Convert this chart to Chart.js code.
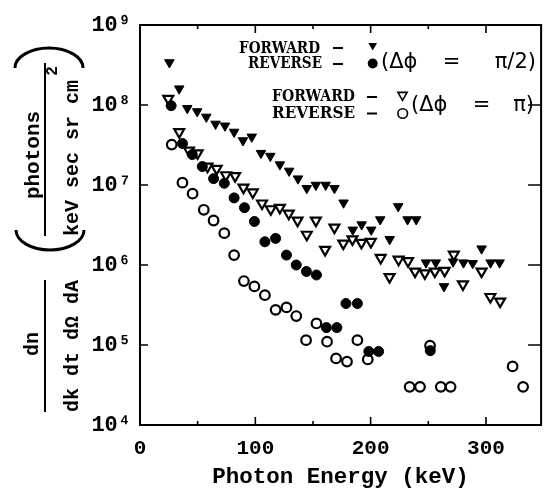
<!DOCTYPE html>
<html>
<head>
<meta charset="utf-8">
<script src="https://cdn.jsdelivr.net/npm/chart.js@4.4.0/dist/chart.umd.min.js"></script>
<style>
  html, body { margin: 0; padding: 0; background: #fff; }
  #wrap { width: 549px; height: 495px; }
</style>
</head>
<body>
<div id="wrap"><canvas id="myChart" width="549" height="495"></canvas></div>
<script>
// forward, delta phi = pi/2 (filled down triangles)
var fwdHalfX = [25.5, 34, 41, 49.6, 57.5, 65.5, 73.7, 81.6, 89.3, 96.9, 104.9, 113, 121.3, 129.3, 137, 144.6, 152.5, 161, 168.6, 176.5,
    184.5, 192.2, 200.5, 208.3, 216.5, 223.9, 232, 239.5, 248, 256.5, 263.6, 271.5, 280.5, 288.5, 296.2, 304, 311.8];
var fwdHalfY = [3.4e8, 1.6e8, 9.1e7, 8.3e7, 7.1e7, 5.8e7, 5.5e7, 4.6e7, 3.6e7, 4.0e7, 2.5e7, 2.3e7, 1.8e7, 1.5e7, 1.2e7, 9.1e6, 1.0e7, 1.0e7, 9.1e6, 6.0e6,
    2.75e6, 3.2e6, 2.75e6, 3.7e6, 2.1e6, 5.4e6, 3.7e6, 3.7e6, 1.07e6, 1.07e6, 5.4e5, 1.1e6, 1.07e6, 1.05e6, 1.6e6, 1.07e6, 1.07e6];

// reverse, delta phi = pi/2 (filled circles)
var revHalfX = [27, 36.8, 45.3, 54, 63.8, 73.1, 81.6, 90.6, 99.2, 108.3, 117.6, 127, 135.5, 144.3, 153, 161.6, 170.7, 178.6, 188.5, 198.4, 206.9, 251.7];
var revHalfY = [9.8e7, 3.3e7, 2.4e7, 1.7e7, 1.2e7, 1.05e7, 6.9e6, 5.2e6, 3.5e6, 1.95e6, 2.15e6, 1.33e6, 1.0e6, 8.3e5, 7.5e5, 1.65e5, 1.65e5, 3.3e5, 3.3e5, 8.3e4, 8.3e4, 8.5e4];

// forward, delta phi = pi (open down triangles)
var fwdPiX = [24.5, 34, 42.5, 50, 58.5, 66.5, 74.5, 82.5, 89.7, 97.8, 105.8, 113.4, 121.3, 129, 136.6, 144.6, 152.5, 160.5, 168.6, 176.3,
    184.2, 192, 200.2, 208.7, 216.4, 224.2, 232.4, 238.5, 247, 255.7, 264.2, 272.1, 280, 296.2, 303.8, 312.3];
var fwdPiY = [1.2e8, 4.6e7, 2.7e7, 2.5e7, 1.7e7, 1.6e7, 1.33e7, 1.3e7, 9.3e6, 8.1e6, 5.9e6, 5.0e6, 5.2e6, 4.4e6, 3.6e6, 2.4e6, 3.6e6, 1.55e6, 2.95e6, 1.86e6,
    2.1e6, 1.9e6, 1.95e6, 1.23e6, 7.1e5, 1.17e6, 1.12e6, 8.3e5, 7.9e5, 8.3e5, 8.5e5, 1.35e6, 5.75e5, 8.3e5, 4.0e5, 3.5e5];

// reverse, delta phi = pi (open circles)
var revPiX = [27.5, 36.8, 45.6, 55.3, 63.8, 73.1, 81.6, 90.1, 99.2, 108.3, 117.6, 127, 135.5, 144, 153, 162.2, 170, 179.5, 188.5, 197.5,
    233.8, 242.8, 251.5, 260.8, 269.3, 323.1, 332.2];
var revPiY = [3.2e7, 1.07e7, 7.8e6, 4.9e6, 3.6e6, 2.5e6, 1.33e6, 6.3e5, 5.4e5, 4.2e5, 2.75e5, 2.95e5, 2.3e5, 1.15e5, 1.86e5, 1.1e5, 6.8e4, 6.2e4, 1.15e5, 6.6e4,
    3.0e4, 3.0e4, 9.8e4, 3.0e4, 3.0e4, 5.4e4, 3.0e4];

var xTicks = [0, 100, 200, 300];
var xMinorTicks = [50, 150, 250];
var yTicks = [1e4, 1e5, 1e6, 1e7, 1e8, 1e9];

var monoFont = "'Liberation Mono', 'DejaVu Sans Mono', monospace";
var sup = { 4: '\u2074', 5: '\u2075', 6: '\u2076', 7: '\u2077', 8: '\u2078', 9: '\u2079' };

function pts(xs, ys) {
    return xs.map(function (x, i) { return { x: x, y: ys[i] }; });
}

function rotText(ctx, str, x, y) {
    ctx.save();
    ctx.translate(x, y);
    ctx.rotate(-Math.PI / 2);
    ctx.fillText(str, 0, 0);
    ctx.restore();
}

// text squeezed/stretched to a given width
function fitText(ctx, str, x, y, w) {
    var m = ctx.measureText(str).width;
    ctx.save();
    ctx.translate(x, y);
    ctx.scale(w / m, 1);
    ctx.fillText(str, 0, 0);
    ctx.restore();
}

function downTri(ctx, x, y, r, filled) {
    ctx.beginPath();
    ctx.moveTo(x - r * 0.866, y - r / 2);
    ctx.lineTo(x + r * 0.866, y - r / 2);
    ctx.lineTo(x, y + r);
    ctx.closePath();
    if (filled) ctx.fill(); else ctx.stroke();
}

function dot(ctx, x, y, r, filled) {
    ctx.beginPath();
    ctx.arc(x, y, r, 0, Math.PI * 2);
    if (filled) ctx.fill(); else ctx.stroke();
}

var framePlugin = {
    id: 'frame',
    afterDraw: function (chart) {
        var ctx = chart.ctx, a = chart.chartArea;
        var xs = chart.scales.x, ys = chart.scales.y;
        ctx.save();
        ctx.strokeStyle = '#000';
        ctx.fillStyle = '#000';
        ctx.lineWidth = 2;
        ctx.beginPath();
        ctx.moveTo(a.left - 1, a.top);
        ctx.lineTo(a.right, a.top);
        ctx.lineTo(a.right, a.bottom);
        ctx.stroke();

        ctx.lineWidth = 1.6;
        ctx.beginPath();
        yTicks.forEach(function (v) {
            var p = ys.getPixelForValue(v);
            ctx.moveTo(a.left, p); ctx.lineTo(a.left + 8, p);
            ctx.moveTo(a.right, p); ctx.lineTo(a.right - 13, p);
        });
        xTicks.forEach(function (v) {
            var p = xs.getPixelForValue(v);
            ctx.moveTo(p, a.bottom); ctx.lineTo(p, a.bottom - 8);
            ctx.moveTo(p, a.top); ctx.lineTo(p, a.top + 8);
        });
        xMinorTicks.forEach(function (v) {
            var p = xs.getPixelForValue(v);
            ctx.moveTo(p, a.bottom); ctx.lineTo(p, a.bottom - 4);
            ctx.moveTo(p, a.top); ctx.lineTo(p, a.top + 4);
        });
        ctx.stroke();

        // y axis title: dn / (dk dt dΩ dA) (photons / keV sec sr cm²)
        ctx.textAlign = 'center';
        ctx.textBaseline = 'alphabetic';
        ctx.font = 'bold 20px ' + monoFont;
        rotText(ctx, 'dn', 38, 344);
        rotText(ctx, 'dk dt d\u03A9 dA', 78, 346);
        ctx.font = 'bold 21px ' + monoFont;
        rotText(ctx, 'photons', 39, 155);
        ctx.font = 'bold 20px ' + monoFont;
        rotText(ctx, 'keV sec sr cm', 78, 158);
        ctx.font = 'bold 16px ' + monoFont;
        rotText(ctx, '2', 57, 71);
        ctx.lineWidth = 2;
        ctx.beginPath();
        ctx.moveTo(45, 280); ctx.lineTo(45, 412);
        ctx.moveTo(45, 63); ctx.lineTo(45, 236);
        ctx.stroke();
        ctx.lineWidth = 3;
        ctx.beginPath();
        ctx.ellipse(49, 68, 34, 20, 0, Math.PI, Math.PI * 2);
        ctx.stroke();
        ctx.beginPath();
        ctx.ellipse(50, 230, 34, 20, 0, 0, Math.PI);
        ctx.stroke();

        // legend
        ctx.textAlign = 'left';
        ctx.textBaseline = 'middle';
        ctx.font = 'bold 16px "DejaVu Serif", serif';
        fitText(ctx, 'FORWARD', 239, 48.5, 81);
        fitText(ctx, 'REVERSE', 248, 63.5, 74);
        fitText(ctx, 'FORWARD', 272, 96.5, 83);
        fitText(ctx, 'REVERSE', 272, 113.5, 83);
        ctx.fillRect(333, 47, 10, 2);
        ctx.fillRect(333, 63, 10, 2);
        ctx.fillRect(367, 96, 10, 2);
        ctx.fillRect(367, 112.5, 10, 2);
        ctx.lineWidth = 1.6;
        downTri(ctx, 372.7, 45.5, 5, true);
        dot(ctx, 372.7, 63.5, 5, true);
        downTri(ctx, 402.5, 95, 5.3, false);
        dot(ctx, 402.7, 113.5, 4.8, false);
        ctx.font = '21px "DejaVu Sans", sans-serif';
        ctx.textAlign = 'left';
        ctx.fillText('(\u0394\u03D5', 381, 63);
        ctx.fillText('(\u0394\u03D5', 411, 106);
        ctx.textAlign = 'center';
        ctx.fillText('=', 451.5, 63);
        ctx.fillText('=', 481.5, 106);
        ctx.textAlign = 'right';
        ctx.fillText('\u03C0/2)', 536, 63);
        ctx.fillText('\u03C0)', 534, 106);
        ctx.restore();
    }
};

var ctx = document.getElementById('myChart').getContext('2d');
var myChart = new Chart(ctx, {
    type: 'scatter',
    data: {
        datasets: [
            {
                label: 'FORWARD (\u0394\u03D5 = \u03C0/2)',
                data: pts(fwdHalfX, fwdHalfY),
                pointStyle: 'triangle',
                rotation: 180,
                pointRadius: 5.5,
                backgroundColor: '#000',
                borderColor: '#000',
                borderWidth: 1
            },
            {
                label: 'REVERSE (\u0394\u03D5 = \u03C0/2)',
                data: pts(revHalfX, revHalfY),
                pointStyle: 'circle',
                pointRadius: 5,
                backgroundColor: '#000',
                borderColor: '#000',
                borderWidth: 1
            },
            {
                label: 'FORWARD (\u0394\u03D5 = \u03C0)',
                data: pts(fwdPiX, fwdPiY),
                pointStyle: 'triangle',
                rotation: 180,
                pointRadius: 5.7,
                backgroundColor: '#fff',
                borderColor: '#000',
                borderWidth: 2.2
            },
            {
                label: 'REVERSE (\u0394\u03D5 = \u03C0)',
                data: pts(revPiX, revPiY),
                pointStyle: 'circle',
                pointRadius: 4.8,
                backgroundColor: '#fff',
                borderColor: '#000',
                borderWidth: 2.2
            }
        ]
    },
    options: {
        responsive: false,
        animation: false,
        layout: { padding: { top: 25, right: 0, left: 0, bottom: 0 } },
        plugins: {
            legend: { display: false },
            tooltip: { enabled: false }
        },
        scales: {
            x: {
                type: 'linear',
                min: 0,
                max: 347.8,
                afterFit: function (axis) { axis.height = 70; },
                afterBuildTicks: function (axis) {
                    axis.ticks = xTicks.map(function (v) { return { value: v }; });
                },
                grid: { display: false, drawTicks: false },
                border: { display: true, color: '#000', width: 2 },
                ticks: {
                    color: '#000',
                    padding: 13,
                    maxRotation: 0,
                    font: { family: monoFont, size: 21, weight: 'bold', lineHeight: 1 }
                },
                title: {
                    display: true,
                    text: 'Photon Energy (keV)',
                    color: '#000',
                    padding: { top: 0, bottom: 4 },
                    font: { family: monoFont, size: 22.5, weight: 'bold', lineHeight: 1.2 }
                }
            },
            y: {
                type: 'logarithmic',
                min: 1e4,
                max: 1e9,
                afterFit: function (axis) { axis.width = 140; },
                afterBuildTicks: function (axis) {
                    axis.ticks = yTicks.map(function (v) { return { value: v }; });
                },
                grid: { display: false, drawTicks: false },
                border: { display: true, color: '#000', width: 2 },
                ticks: {
                    color: '#000',
                    padding: 9,
                    font: { family: monoFont, size: 22, weight: 'bold', lineHeight: 1 },
                    callback: function (v) {
                        return '10' + sup[Math.round(Math.log10(v))];
                    }
                }
            }
        }
    },
    plugins: [framePlugin]
});
</script>
</body>
</html>
